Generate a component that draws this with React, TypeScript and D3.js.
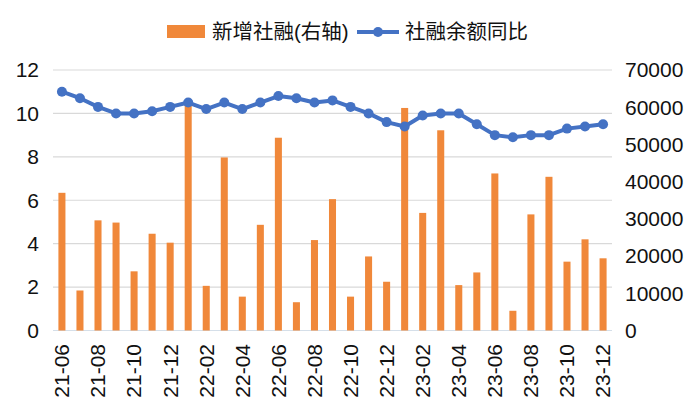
import React from 'react';
import * as d3 from 'd3';

// months 21-06 .. 23-12
const months = [
  '21-06', '21-07', '21-08', '21-09', '21-10', '21-11', '21-12',
  '22-01', '22-02', '22-03', '22-04', '22-05', '22-06', '22-07', '22-08', '22-09', '22-10', '22-11', '22-12',
  '23-01', '23-02', '23-03', '23-04', '23-05', '23-06', '23-07', '23-08', '23-09', '23-10', '23-11', '23-12',
];

// 新增社融, right axis
const newFinancing = [
  37000, 10750, 29600, 29000, 15900, 26000, 23600,
  61700, 12000, 46500, 9100, 28400, 51800, 7600, 24300, 35300, 9100, 19900, 13100,
  59800, 31600, 53800, 12200, 15600, 42200, 5300, 31200, 41300, 18500, 24500, 19400,
];

// 社融余额同比, left axis
const stockGrowth = [
  11.0, 10.7, 10.3, 10.0, 10.0, 10.1, 10.3,
  10.5, 10.2, 10.5, 10.2, 10.5, 10.8, 10.7, 10.5, 10.6, 10.3, 10.0, 9.6,
  9.4, 9.9, 10.0, 10.0, 9.5, 9.0, 8.9, 9.0, 9.0, 9.3, 9.4, 9.5,
];

const leftTicks = [0, 2, 4, 6, 8, 10, 12];
const rightTicks = [0, 10000, 20000, 30000, 40000, 50000, 60000, 70000];

const W = 700;
const H = 420;
const FONT = '"Liberation Sans", Arial, Helvetica, "Noto Sans CJK SC", sans-serif';
const ORANGE = '#f0883a';
const BLUE = '#4472c4';

export default function App() {
  const x = d3.scaleBand<string>().domain(months).range([53, 612]).paddingInner(0.61).paddingOuter(0.3);
  const yL = d3.scaleLinear().domain([0, 12]).range([330.5, 70]);
  const yR = d3.scaleLinear().domain([0, 70000]).range([330.5, 70]);
  const cx = (m: string) => (x(m) ?? 0) + x.bandwidth() / 2;

  const line = d3.line<number>()
    .x((_, i) => cx(months[i]))
    .y(d => yL(d));

  return (
    <svg width={W} height={H} style={{ position: 'absolute', left: 0, top: 0, background: '#fff' }}
      fontFamily={FONT}>
      {/* legend */}
      <g>
        <rect x={167} y={25} width={38} height={13} fill={ORANGE} />
        <text x={212} y={39} fontSize={20.5} fill="#111">新增社融(右轴)</text>
        <line x1={357} x2={399} y1={32} y2={32} stroke={BLUE} strokeWidth={4} />
        <circle cx={378} cy={32} r={5} fill={BLUE} />
        <text x={405} y={39} fontSize={20.5} fill="#111">社融余额同比</text>
      </g>

      {/* grid */}
      {leftTicks.map(t => (
        <line key={t} x1={53} x2={612} y1={yL(t)} y2={yL(t)}
          stroke={t === 0 ? '#d5dfe9' : '#d9d9d9'} strokeWidth={1.2} />
      ))}

      {/* left axis */}
      {leftTicks.map(t => (
        <text key={t} x={39} y={yL(t)} dy="0.35em" textAnchor="end" fontSize={21} fill="#111">{t}</text>
      ))}
      {/* right axis */}
      {rightTicks.map(t => (
        <text key={t} x={625} y={yR(t)} dy="0.35em" textAnchor="start" fontSize={21} fill="#111">{t}</text>
      ))}

      {/* bars */}
      {newFinancing.map((v, i) => (
        <rect key={months[i]} x={x(months[i])} y={yR(v)} width={x.bandwidth()}
          height={yR(0) - yR(v)} fill={ORANGE} />
      ))}

      {/* line */}
      <path d={line(stockGrowth) ?? ''} fill="none" stroke={BLUE} strokeWidth={4} strokeLinejoin="round" />
      {stockGrowth.map((v, i) => (
        <circle key={months[i]} cx={cx(months[i])} cy={yL(v)} r={5} fill={BLUE} />
      ))}

      {/* x labels, every other month */}
      {months.filter((_, i) => i % 2 === 0).map(m => (
        <text key={m} transform={`translate(${cx(m)},344) rotate(-90)`} textAnchor="end" dy="0.35em"
          fontSize={21} fill="#111">{m}</text>
      ))}
    </svg>
  );
}
